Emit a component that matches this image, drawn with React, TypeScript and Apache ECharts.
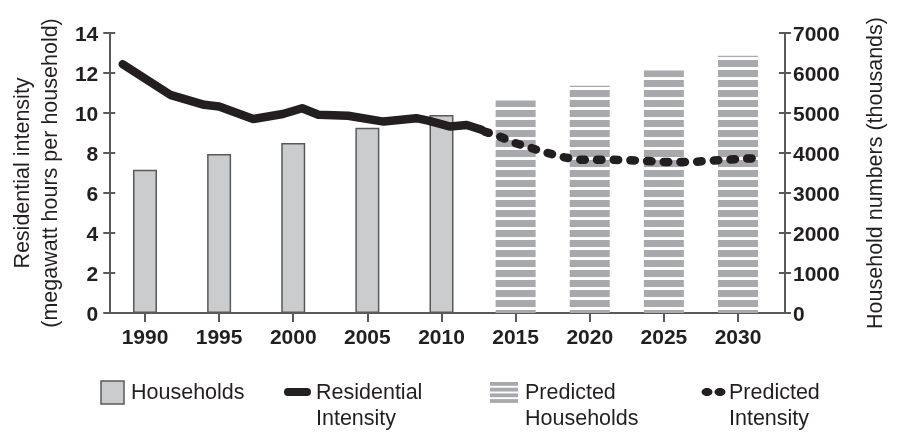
import React, { useEffect, useRef } from "react";
import * as echarts from "echarts";

// ---- data ----
const tickYears = [1990, 1995, 2000, 2005, 2010, 2015, 2020, 2025, 2030];

const householdYears = [1990, 1995, 2000, 2005, 2010];
const householdValues = [3580, 3975, 4250, 4630, 4950];

const predictedHouseholdYears = [2015, 2020, 2025, 2030];
const predictedHouseholdValues = [5310, 5680, 6060, 6430];

const intensityYears = [1988.5, 1991.7, 1994.0, 1995.0, 1997.3, 1999.3, 2000.6, 2001.7, 2003.7, 2006.1, 2008.3, 2009.1, 2010.6, 2011.7, 2012.7];
const intensityValues = [12.44, 10.91, 10.41, 10.33, 9.7, 9.95, 10.24, 9.91, 9.86, 9.57, 9.74, 9.62, 9.32, 9.4, 9.16];

const predictedIntensityYears = [2012.9, 2014.0, 2015.0, 2016.1, 2017.2, 2018.3, 2019.4, 2021.5, 2023.0, 2025.0, 2027.0, 2028.0, 2029.1, 2030.2, 2031.3];
const predictedIntensityValues = [9.08, 8.8, 8.49, 8.24, 7.99, 7.78, 7.66, 7.66, 7.63, 7.55, 7.55, 7.61, 7.66, 7.71, 7.74];

const legendNames = ["Households", "Residential\nIntensity", "Predicted\nHouseholds", "Predicted\nIntensity"];
const leftAxisName = "Residential intensity\n(megawatt hours per household)";
const rightAxisName = "Household numbers (thousands)";

function hasFont(name: string): boolean {
  const ctx = document.createElement("canvas").getContext("2d");
  if (!ctx) return false;
  const s = "Households 0123456789 Residential";
  ctx.font = "40px monospace";
  const a = ctx.measureText(s).width;
  ctx.font = `40px "${name}", monospace`;
  const b = ctx.measureText(s).width;
  return Math.abs(a - b) > 0.5;
}

function makeStripes(): HTMLCanvasElement {
  const c = document.createElement("canvas");
  c.width = 4;
  c.height = 10;
  const ctx = c.getContext("2d")!;
  ctx.fillStyle = "#ffffff";
  ctx.fillRect(0, 0, 4, 10);
  ctx.fillStyle = "#a7a9ac";
  ctx.fillRect(0, 0, 4, 7);
  return c;
}

export default function App() {
  const ref = useRef<HTMLDivElement>(null);
  useEffect(() => {
    const el = ref.current!;
    const chart = echarts.init(el, null, { renderer: "svg" });
    const narrow = hasFont("Liberation Sans Narrow");
    const fam = narrow
      ? '"Liberation Sans Narrow", "Liberation Sans", Arial, sans-serif'
      : '"Liberation Sans", Arial, sans-serif';
    const reg = narrow ? 26 : 21.5;
    const bold = narrow ? 24 : 21;
    const ink = "#231f20";
    const axisColor = "#58595b";
    const stripe = { image: makeStripes(), repeat: "repeat" } as any;

    const xMin = 1987.59;
    const xMax = 2033.17;

    const baseX = {
      type: "value",
      min: xMin,
      max: xMax,
      splitLine: { show: false },
    };

    const yCommon = (pos: "left" | "right", max: number, interval: number, inside: boolean, labels: boolean) => ({
      type: "value",
      position: pos,
      min: 0,
      max,
      interval,
      splitLine: { show: false },
      axisLine: { show: true, lineStyle: { color: axisColor, width: 2 } },
      axisTick: { show: true, inside, length: 6, lineStyle: { color: axisColor, width: 2 } },
      axisLabel: labels
        ? {
            show: true,
            color: ink,
            fontFamily: fam,
            fontWeight: "bold",
            fontSize: bold,
            margin: pos === "left" ? 11 : 8,
            padding: [0, 0, 6, 0],
            formatter: (v: number) => String(v),
          }
        : { show: false },
    });

    const option: any = {
      animation: false,
      textStyle: { fontFamily: fam },
      grid: { left: 102, right: 101, top: 33, bottom: 121, containLabel: false },
      xAxis: [
        {
          ...baseX,
          axisLine: { show: true, lineStyle: { color: axisColor, width: 2 } },
          axisTick: { show: true, customValues: tickYears, length: 9, lineStyle: { color: axisColor, width: 2 } },
          axisLabel: {
            customValues: tickYears,
            color: ink,
            fontFamily: fam,
            fontWeight: "bold",
            fontSize: bold,
            margin: 13,
            formatter: (v: number) => String(Math.round(v)),
          },
        },
        {
          ...baseX,
          show: false,
        },
      ],
      yAxis: [
        {
          ...yCommon("left", 14, 2, false, true),
          name: leftAxisName,
          nameLocation: "middle",
          nameRotate: 90,
          nameGap: 41,
          nameTextStyle: { color: ink, fontFamily: fam, fontSize: reg, lineHeight: 28 },
        },
        {
          ...yCommon("right", 7000, 1000, false, true),
          name: rightAxisName,
          nameLocation: "middle",
          nameRotate: 90,
          nameGap: 76,
          nameTextStyle: { color: ink, fontFamily: fam, fontSize: reg, lineHeight: 28 },
        },
        yCommon("left", 14, 2, true, false),
        yCommon("right", 7000, 1000, true, false),
      ],
      series: [
        {
          name: "Households",
          type: "bar",
          xAxisIndex: 0,
          yAxisIndex: 1,
          barWidth: 24,
          data: householdYears.map((y, i) => [y, householdValues[i]]),
          itemStyle: { color: "#cbcccd", borderColor: "#58595b", borderWidth: 1.5 },
          z: 2,
        },
        {
          name: "Predicted Households",
          type: "bar",
          xAxisIndex: 1,
          yAxisIndex: 1,
          barWidth: 40,
          data: predictedHouseholdYears.map((y, i) => [y, predictedHouseholdValues[i]]),
          itemStyle: { color: stripe },
          z: 2,
        },
        {
          name: "Residential Intensity",
          type: "line",
          xAxisIndex: 0,
          yAxisIndex: 0,
          showSymbol: false,
          symbol: "none",
          data: intensityYears.map((y, i) => [y, intensityValues[i]]),
          lineStyle: { color: ink, width: 8.5, cap: "round", join: "round" },
          z: 5,
        },
        {
          name: "Predicted Intensity",
          type: "line",
          xAxisIndex: 0,
          yAxisIndex: 0,
          showSymbol: false,
          symbol: "none",
          data: predictedIntensityYears.map((y, i) => [y, predictedIntensityValues[i]]),
          lineStyle: { color: ink, width: 8.5, cap: "round", join: "round", type: [4.5, 12.2] },
          z: 5,
        },
      ],
      graphic: [
        {
          type: "rect",
          shape: { x: 101, y: 381, width: 23, height: 23 },
          style: { fill: "#cbcccd", stroke: "#58595b", lineWidth: 1.5 },
        },
        {
          type: "text",
          x: 131,
          y: 392,
          style: { text: legendNames[0], fill: ink, font: `${reg}px ${fam}`, verticalAlign: "middle" },
        },
        {
          type: "line",
          shape: { x1: 288, y1: 392, x2: 307, y2: 392 },
          style: { stroke: ink, lineWidth: 8, lineCap: "round" },
        },
        {
          type: "text",
          x: 316,
          y: 379,
          style: { text: legendNames[1], fill: ink, font: `${reg}px ${fam}`, verticalAlign: "top", lineHeight: 26 },
        },
        {
          type: "group",
          children: [0, 1, 2, 3].map((k) => ({
            type: "rect",
            shape: { x: 490, y: 382 + k * 5.7, width: 28, height: 3.8 },
            style: { fill: "#a7a9ac" },
          })),
        },
        {
          type: "text",
          x: 525,
          y: 379,
          style: { text: legendNames[2], fill: ink, font: `${reg}px ${fam}`, verticalAlign: "top", lineHeight: 26 },
        },
        {
          type: "ellipse",
          shape: { cx: 707, cy: 392, rx: 5.5, ry: 4 },
          style: { fill: ink },
        },
        {
          type: "ellipse",
          shape: { cx: 720, cy: 392, rx: 5.5, ry: 4 },
          style: { fill: ink },
        },
        {
          type: "text",
          x: 729,
          y: 379,
          style: { text: legendNames[3], fill: ink, font: `${reg}px ${fam}`, verticalAlign: "top", lineHeight: 26 },
        },
      ],
    };

    chart.setOption(option);
    return () => chart.dispose();
  }, []);

  return <div ref={ref} style={{ position: "fixed", left: 0, top: 0, width: 897, height: 434 }} />;
}
